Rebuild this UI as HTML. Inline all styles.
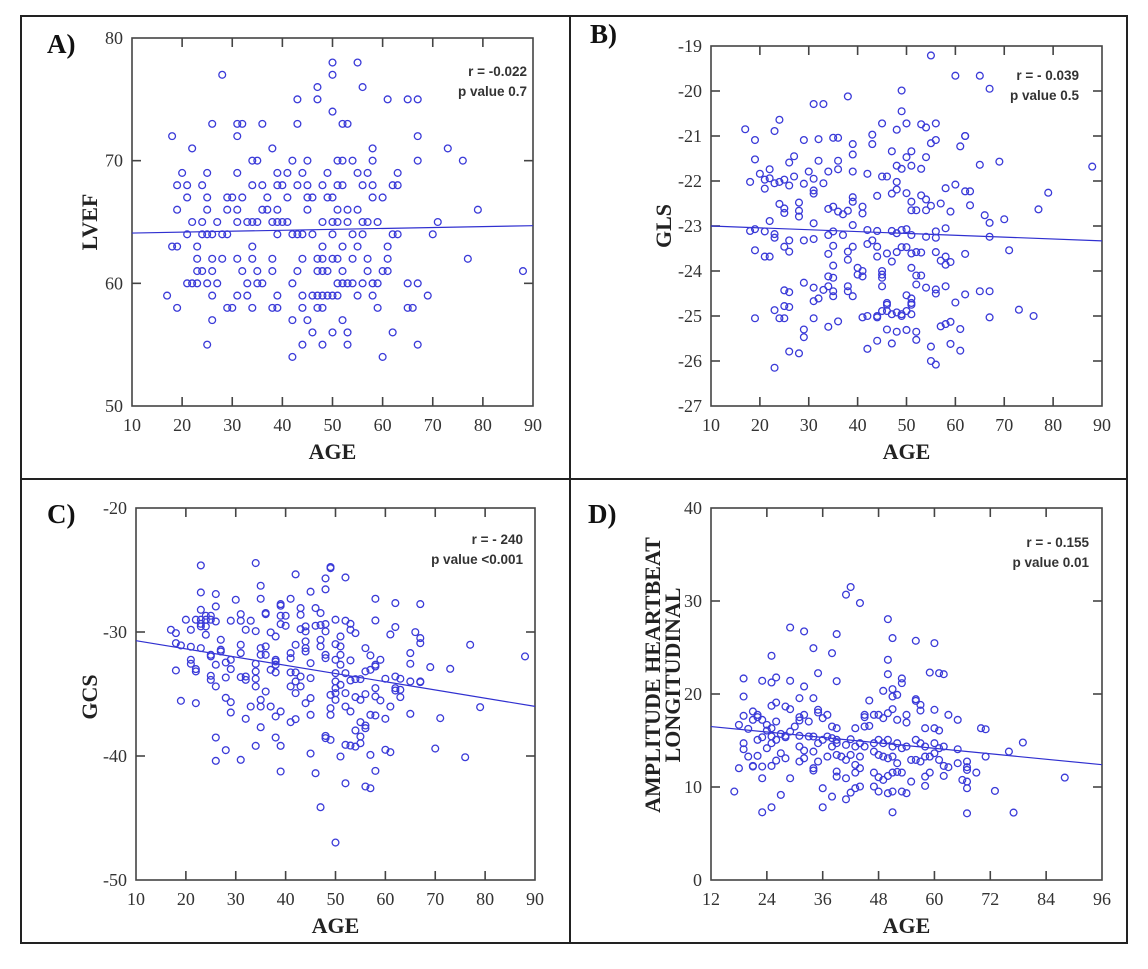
<!DOCTYPE html>
<html><head><meta charset="utf-8"><style>
html,body{margin:0;padding:0;background:#fff;}
svg{display:block;}
.tick{font-family:"Liberation Serif",serif;font-size:18px;fill:#333;}
.atitle{font-family:"Liberation Serif",serif;font-size:22px;font-weight:bold;fill:#222;}
.plabel{font-family:"Liberation Serif",serif;font-size:27px;font-weight:bold;fill:#111;}
.annot{font-family:"Liberation Sans",sans-serif;font-size:13.5px;font-weight:bold;fill:#333;}
</style></head><body>
<svg id="fig" width="1148" height="969" viewBox="0 0 1148 969" xmlns="http://www.w3.org/2000/svg">
<rect x="21" y="16" width="1106" height="927" fill="none" stroke="#222" stroke-width="2"/>
<line x1="570" y1="16" x2="570" y2="943" stroke="#222" stroke-width="2"/>
<line x1="21" y1="479" x2="1127" y2="479" stroke="#222" stroke-width="2"/>
</svg>
<script>
// ---------- DATA ----------
const ageTicksA=[10,20,30,40,50,60,70,80,90];
const lvefTicks=[50,60,70,80];
const lvefPts=[[50,78],[55,78],[28,77],[50,77],[47,76],[56,76],[43,75],[47,75],[61,75],[65,75],[67,75],[50,74],
[26,73],[31,73],[32,73],[36,73],[43,73],[52,73],[53,73],[18,72],[31,72],[67,72],[22,71],[38,71],[58,71],[73,71],
[34,70],[35,70],[42,70],[45,70],[51,70],[52,70],[54,70],[58,70],[67,70],[76,70],
[20,69],[25,69],[31,69],[39,69],[41,69],[44,69],[49,69],[55,69],[57,69],[63,69],
[19,68],[21,68],[24,68],[34,68],[36,68],[39,68],[40,68],[43,68],[45,68],[48,68],[51,68],[52,68],[56,68],[58,68],[62,68],[63,68],
[21,67],[25,67],[29,67],[30,67],[32,67],[37,67],[41,67],[45,67],[46,67],[49,67],[50,67],[58,67],[60,67],
[19,66],[25,66],[29,66],[31,66],[36,66],[37,66],[39,66],[45,66],[51,66],[53,66],[55,66],[79,66],
[22,65],[24,65],[27,65],[31,65],[33,65],[34,65],[35,65],[38,65],[39,65],[40,65],[41,65],[48,65],[50,65],[51,65],[53,65],[56,65],[57,65],[59,65],[71,65],
[21,64],[24,64],[25,64],[26,64],[28,64],[29,64],[39,64],[42,64],[43,64],[44,64],[46,64],[50,64],[54,64],[56,64],[62,64],[63,64],[70,64],
[18,63],[19,63],[23,63],[34,63],[48,63],[52,63],[55,63],[61,63],
[23,62],[26,62],[28,62],[31,62],[34,62],[38,62],[44,62],[47,62],[48,62],[50,62],[51,62],[54,62],[57,62],[61,62],[77,62],
[23,61],[24,61],[26,61],[32,61],[35,61],[38,61],[43,61],[47,61],[48,61],[49,61],[52,61],[57,61],[60,61],[61,61],[88,61],
[21,60],[22,60],[23,60],[25,60],[27,60],[33,60],[35,60],[36,60],[42,60],[51,60],[52,60],[53,60],[54,60],[56,60],[58,60],[59,60],[65,60],[67,60],
[17,59],[26,59],[31,59],[33,59],[39,59],[44,59],[46,59],[47,59],[48,59],[49,59],[50,59],[51,59],[55,59],[58,59],[69,59],
[19,58],[29,58],[30,58],[34,58],[38,58],[39,58],[44,58],[47,58],[48,58],[59,58],[65,58],[66,58],
[26,57],[42,57],[45,57],[52,57],[46,56],[50,56],[53,56],[62,56],[25,55],[44,55],[48,55],[53,55],[67,55],[42,54],[60,54]];
const fitA=[64.1,64.7];

const ageTicksB=[10,20,30,40,50,60,70,80,90];
const glsTicks=[-27,-26,-25,-24,-23,-22,-21,-20,-19];
const glsPts=[[55,-19.21],[60,-19.66],[65,-19.66],[67,-19.95],[49,-19.99],[38,-20.12],[31,-20.29],[33,-20.29],[49,-20.45],[24,-20.64],[45,-20.72],[50,-20.72],[53,-20.74],[54,-20.81],[56,-20.72],[17,-20.85],[23,-20.89],[48,-20.86],
[19,-21.09],[32,-21.07],[29,-21.09],[35,-21.04],[36,-21.04],[39,-21.18],[43,-20.97],[43,-21.18],[56,-21.09],[55,-21.16],[62,-21.0],[62,-21.0],[61,-21.23],[47,-21.34],[51,-21.34],[50,-21.47],[54,-21.47],[69,-21.57],[65,-21.64],[88,-21.68],
[19,-21.52],[27,-21.45],[26,-21.59],[36,-21.55],[36,-21.74],[39,-21.41],[32,-21.55],[30,-21.79],[34,-21.79],[39,-21.79],[42,-21.84],[45,-21.9],[46,-21.9],[48,-21.66],[49,-21.73],[51,-21.66],[53,-21.73],[48,-22.02],
[18,-22.02],[20,-21.84],[21,-21.97],[21,-22.17],[22,-21.74],[22,-21.94],[23,-22.05],[24,-22.02],[25,-21.97],[26,-22.1],[27,-21.9],[29,-22.06],[31,-21.95],[33,-22.05],[58,-22.16],[60,-22.08],[62,-22.23],[63,-22.23],[79,-22.26],
[47,-22.28],[44,-22.33],[48,-22.19],[50,-22.27],[53,-22.32],[54,-22.41],[51,-22.46],[51,-22.65],[52,-22.65],[54,-22.65],[55,-22.55],
[24,-22.51],[25,-22.61],[25,-22.71],[28,-22.48],[28,-22.66],[28,-22.79],[31,-22.21],[31,-22.28],[34,-22.62],[35,-22.57],[36,-22.68],[37,-22.74],[38,-22.66],[39,-22.36],[39,-22.46],[41,-22.57],[41,-22.72],[57,-22.5],[59,-22.68],[63,-22.54],[66,-22.76],[67,-22.93],[70,-22.85],[77,-22.63],
[22,-22.89],[18,-23.11],[19,-23.07],[21,-23.12],[23,-23.18],[23,-23.26],[26,-23.32],[29,-23.32],[31,-23.29],[31,-22.94],[37,-23.2],[34,-23.2],[35,-23.12],[39,-22.98],[42,-23.09],[44,-23.11],[47,-23.11],[48,-23.16],[49,-23.09],[50,-23.07],[51,-23.2],[54,-23.24],[56,-23.12],[56,-23.26],[58,-23.05],[67,-23.24],[71,-23.54],
[19,-23.54],[21,-23.68],[22,-23.68],[25,-23.46],[26,-23.57],[34,-23.62],[35,-23.44],[38,-23.57],[39,-23.46],[42,-23.4],[43,-23.32],[44,-23.46],[44,-23.68],[46,-23.61],[47,-23.79],[48,-23.58],[49,-23.47],[50,-23.47],[51,-23.61],[52,-23.58],[53,-23.59],[56,-23.58],[57,-23.77],[58,-23.68],[59,-23.8],[58,-23.86],[62,-23.62],
[38,-23.75],[40,-23.93],[41,-24.0],[40,-24.08],[41,-24.12],[45,-24.0],[45,-24.08],[45,-24.15],[51,-23.93],[52,-24.1],[53,-24.1],[52,-24.3],[54,-24.37],
[35,-23.88],[34,-24.12],[35,-24.15],[34,-24.34],[33,-24.42],[29,-24.26],[31,-24.37],[31,-24.67],[32,-24.61],[35,-24.45],[35,-24.56],[38,-24.34],[38,-24.45],[39,-24.56],[45,-24.34],[58,-24.34],[56,-24.41],[56,-24.5],[62,-24.52],[65,-24.45],[67,-24.45],[73,-24.86],[76,-25.0],[60,-24.7],
[50,-24.54],[51,-24.61],[51,-24.71],[51,-24.75],[51,-24.96],[46,-24.71],[46,-24.75],[45,-24.89],[44,-25.0],[46,-24.89],[47,-24.96],[48,-24.92],[49,-24.96],[50,-24.89],[49,-25.0],
[25,-24.43],[26,-24.47],[25,-24.78],[26,-24.8],[23,-24.87],[24,-25.05],[25,-25.05],[19,-25.05],[31,-25.05],[36,-25.12],[34,-25.24],[41,-25.03],[42,-25.0],[44,-25.03],[67,-25.03],[57,-25.23],[58,-25.18],[59,-25.13],[61,-25.29],
[29,-25.3],[29,-25.47],[46,-25.3],[48,-25.35],[50,-25.31],[52,-25.35],[52,-25.53],[44,-25.55],[47,-25.61],[42,-25.73],[59,-25.62],[61,-25.77],[26,-25.79],[28,-25.83],[23,-26.15],[55,-25.68],[55,-26.0],[56,-26.08]];
const fitB=[-23.0,-23.33];

const ageTicksC=[10,20,30,40,50,60,70,80,90];
const gcsTicks=[-50,-40,-30,-20];
const gcsPts=[[23,-24.63],[34,-24.44],[49,-24.76],[49,-24.85],[42,-25.35],[48,-25.68],[52,-25.6],[35,-26.27],[23,-26.81],[26,-26.94],[45,-26.75],[48,-26.56],
[30,-27.4],[35,-27.32],[41,-27.32],[58,-27.32],[39,-27.75],[39,-27.88],[62,-27.67],[67,-27.75],[26,-27.94],[23,-28.21],[25,-28.69],[24,-28.69],[46,-28.07],[47,-28.47],[43,-28.07],[36,-28.47],[36,-28.56],[31,-28.56],
[20,-29.01],[22,-29.01],[23,-29.01],[24,-29.01],[25,-29.01],[26,-29.15],[29,-29.09],[31,-29.09],[33,-29.09],[39,-28.69],[40,-28.69],[43,-28.61],[50,-29.01],[52,-29.09],[58,-29.07],
[17,-29.82],[21,-29.82],[23,-29.34],[23,-29.55],[24,-29.55],[24,-30.22],[27,-30.63],[32,-29.82],[34,-29.93],[37,-30.03],[38,-30.36],[39,-29.36],[40,-29.5],[44,-29.55],[43,-29.77],[44,-29.95],[46,-29.5],[47,-29.44],[48,-29.36],[48,-29.95],[53,-29.34],[54,-30.09],[53,-29.82],[61,-30.2],[62,-29.6],[66,-30.01],[67,-30.49],[67,-30.9],
[18,-30.09],[18,-30.9],[19,-31.08],[21,-31.19],[23,-31.3],[25,-31.84],[25,-31.97],[27,-31.43],[27,-31.57],[31,-31.03],[31,-31.7],[36,-31.16],[35,-31.3],[35,-31.84],[36,-31.84],[38,-32.24],[38,-32.38],[41,-32.11],[41,-31.7],[42,-31.03],[44,-30.76],[44,-31.3],[44,-31.57],[47,-30.63],[47,-31.16],[48,-31.84],[48,-32.11],[50,-30.98],[51,-31.16],[51,-31.84],[51,-30.36],[53,-32.29],[50,-32.24],[51,-32.64],[56,-31.3],[57,-31.89],[58,-32.78],[59,-32.24],[65,-31.7],[65,-32.56],[69,-32.83],[73,-32.97],[77,-31.03],[88,-31.97],
[18,-33.1],[21,-32.24],[21,-32.56],[22,-32.99],[22,-33.18],[26,-32.64],[28,-32.46],[29,-32.24],[29,-32.99],[32,-33.59],[34,-32.56],[34,-33.18],[37,-33.05],[38,-32.64],[38,-33.26],[41,-33.26],[42,-33.26],[43,-33.59],[45,-32.51],[45,-33.72],[50,-33.32],[52,-33.32],[54,-33.8],[53,-33.91],[55,-33.8],[56,-33.18],[57,-33.05],[58,-32.64],[60,-33.77],[62,-33.59],[63,-33.77],[65,-33.99],[67,-33.99],
[25,-33.53],[25,-33.86],[26,-34.39],[28,-33.67],[31,-33.64],[32,-33.86],[34,-33.77],[34,-34.39],[36,-34.8],[41,-34.39],[42,-33.99],[43,-34.39],[42,-34.93],[50,-33.99],[50,-34.53],[51,-34.26],[50,-34.93],[49,-35.07],[50,-35.47],[52,-34.93],[54,-35.25],[55,-35.47],[56,-35.01],[58,-34.53],[58,-35.2],[59,-35.52],[62,-34.53],[62,-34.72],[63,-34.66],[63,-35.25],[61,-36.01],[65,-36.6],[67,-34.04],
[19,-35.55],[22,-35.74],[28,-35.31],[29,-35.66],[33,-36.01],[35,-35.47],[35,-36.01],[37,-36.01],[38,-36.81],[39,-36.41],[41,-37.27],[42,-37.03],[44,-35.74],[45,-35.33],[45,-36.68],[49,-36.14],[49,-36.68],[52,-36.01],[53,-36.41],[55,-37.27],[56,-37.54],[56,-37.76],[57,-36.68],[58,-36.73],[60,-37.0],[71,-36.95],[79,-36.06],
[29,-36.49],[32,-37.0],[35,-37.68],[54,-37.94],[55,-38.43],[54,-39.24],[55,-38.97],[48,-38.38],[48,-38.56],[49,-38.7],[53,-39.16],[52,-39.1],[26,-38.51],[28,-39.53],[38,-38.51],[39,-39.18],[34,-39.18],[57,-39.91],[60,-39.5],[61,-39.69],[70,-39.4],[76,-40.1],
[26,-40.39],[31,-40.31],[45,-39.8],[51,-40.04],[39,-41.25],[46,-41.39],[58,-41.2],[52,-42.2],[56,-42.46],[57,-42.6],[47,-44.13],[50,-46.98]];
const fitC=[-30.7,-36.0];

const ageTicksD=[12,24,36,48,60,72,84,96];
const ampTicks=[0,10,20,30,40];
const ampPts=[[42,31.5],[41,30.68],[44,29.78],[50,28.05],[29,27.15],[32,26.73],[39,26.44],[51,26.01],[56,25.72],[60,25.47],[34,24.93],[38,24.39],[25,24.11],[50,23.68],
[59,22.31],[61,22.24],[62,22.13],[35,22.24],[50,22.13],[26,21.78],[19,21.67],[23,21.42],[29,21.42],[39,21.38],[32,20.81],[53,21.67],[53,21.17],[25,21.24],[51,20.52],[51,19.73],[49,20.34],[52,19.91],
[31,19.55],[34,19.55],[19,19.73],[56,19.44],[56,19.26],[46,19.3],[26,19.08],[25,18.73],[57,18.83],[57,18.22],[60,18.3],[63,17.76],[65,17.22],
[21,18.12],[22,17.76],[22,17.51],[23,17.22],[19,17.65],[18,16.68],[20,16.25],[24,16.68],[26,17.04],[25,16.32],[28,18.65],[29,18.37],[32,17.76],[31,17.51],[31,17.15],[30,16.5],[33,17.04],[35,18.3],[35,18.01],[37,17.76],[36,17.4],[38,16.5],[39,16.32],[43,16.32],[45,16.5],[45,17.51],[45,17.76],[46,16.57],[47,17.76],[48,17.76],[49,17.4],[50,17.94],[51,18.37],[52,17.22],[54,17.76],[54,16.93],[58,16.32],[60,16.32],[61,16.07],[70,16.32],[71,16.21],
[21,17.22],[28,15.5],[31,15.5],[22,15.07],[24,16.07],[25,15.43],[26,15.07],[27,15.71],[28,15.35],[29,15.96],[23,15.35],[19,14.71],[19,14.06],[22,13.35],[24,14.17],[25,14.71],[31,14.35],[32,13.92],[33,15.43],[34,15.43],[35,14.71],[36,15.07],[37,15.43],[38,15.25],[39,15.07],[38,14.35],[39,14.71],[41,14.53],[42,15.14],[43,14.35],[44,14.71],[45,14.35],[47,14.71],[48,15.07],[49,14.71],[50,15.07],[51,14.35],[52,14.71],[54,14.35],[56,15.07],[57,14.71],[58,14.35],[60,14.71],[61,14.17],[62,14.35],[65,14.06],[76,13.81],[79,14.78],[71,13.27],
[20,13.27],[21,12.27],[25,12.27],[23,12.2],[26,12.84],[27,13.63],[28,13.09],[31,12.74],[32,13.09],[34,13.81],[34,12.02],[35,12.74],[37,13.27],[39,13.45],[40,13.27],[41,12.91],[42,13.45],[43,12.38],[44,13.27],[47,13.81],[48,13.45],[49,13.27],[50,13.09],[51,13.27],[52,12.56],[53,14.17],[55,12.91],[56,12.91],[57,12.74],[58,13.27],[59,13.27],[60,13.63],[61,12.91],[62,12.27],[63,12.13],[65,12.56],[67,12.74],[67,12.13],[69,11.55],[67,11.84],
[18,12.02],[21,12.2],[23,10.94],[29,10.94],[34,11.77],[39,11.66],[39,11.12],[41,10.94],[43,11.55],[44,12.02],[47,11.55],[48,11.05],[49,10.76],[50,11.19],[51,11.55],[52,11.62],[53,11.55],[55,10.58],[58,11.12],[59,11.55],[62,11.19],[66,10.76],[67,10.58],[88,11.01],
[17,9.51],[27,9.15],[36,9.87],[38,8.97],[41,8.68],[42,9.4],[43,9.87],[44,10.05],[47,10.05],[48,9.51],[50,9.33],[51,9.51],[53,9.51],[54,9.33],[58,10.12],[67,9.87],[73,9.58],
[23,7.28],[25,7.82],[36,7.82],[51,7.28],[67,7.17],[77,7.25]];
const fitD=[16.5,12.4];

// ---------- DRAW ----------
const NS='http://www.w3.org/2000/svg';
const svg=document.getElementById('fig');
function mk(tag,attrs,parent,text){
  const e=document.createElementNS(NS,tag);
  for(const k in attrs) e.setAttribute(k,attrs[k]);
  if(text!==undefined) e.textContent=text;
  (parent||svg).appendChild(e);
  return e;
}
function panel(p){
  const g=mk('g',{});
  
  
  const sx=v=>p.x0+(v-p.xmin)/(p.xmax-p.xmin)*(p.x1-p.x0);
  const sy=v=>p.y1-(v-p.ymin)/(p.ymax-p.ymin)*(p.y1-p.y0);
  const frame=mk('rect',{x:p.x0,y:p.y0,width:p.x1-p.x0,height:p.y1-p.y0,fill:'none',stroke:'#444','stroke-width':1.6},g);
  
  
  p.xt.forEach(t=>{
    const x=sx(t);
    if(t!==p.xmin&&t!==p.xmax){
      const a=mk('line',{x1:x,y1:p.y1,x2:x,y2:p.y1-9,stroke:'#444','stroke-width':1.6},g);
      
      
      const b=mk('line',{x1:x,y1:p.y0,x2:x,y2:p.y0+9,stroke:'#444','stroke-width':1.6},g);
      
      
    }
    const l=mk('text',{x:x,y:p.y1+25,'text-anchor':'middle',class:'tick'},g,String(t));
    
    
  });
  p.yt.forEach(t=>{
    const y=sy(t);
    if(t!==p.ymin&&t!==p.ymax){
      const a=mk('line',{x1:p.x0,y1:y,x2:p.x0+9,y2:y,stroke:'#444','stroke-width':1.6},g);
      
      
      const b=mk('line',{x1:p.x1,y1:y,x2:p.x1-9,y2:y,stroke:'#444','stroke-width':1.6},g);
      
      
    }
    const l=mk('text',{x:p.x0-9,y:y+6,'text-anchor':'end',class:'tick'},g,String(t));
    
    
  });
  const fit=mk('line',{x1:sx(p.xmin),y1:sy(p.fit[0]),x2:sx(p.xmax),y2:sy(p.fit[1]),stroke:'#3030d0','stroke-width':1.2},g);
  
  
  p.pts.forEach(d=>{
    const c=mk('circle',{cx:sx(d[0]),cy:sy(d[1]),r:3.4,fill:'none',stroke:'#3a3ad8','stroke-width':1.3},g);
    
    
  });
  const xt=mk('text',{x:(p.x0+p.x1)/2,y:p.y1+53,'text-anchor':'middle',class:'atitle'},g,'AGE');
  
  
  const cy=p.ytCenter;
  p.ytitle.forEach((s,i)=>{
    const tx=p.ytx[i];
    const t=mk('text',{x:tx,y:cy,'text-anchor':'middle',class:'atitle',transform:'rotate(-90 '+tx+' '+cy+')'},g,s);
    
    
  });
  const pl=mk('text',{x:p.lx,y:p.ly,class:'plabel'},g,p.letter);
  
  
  p.annot.forEach((s,i)=>{
    const a=mk('text',{x:p.ax,y:p.ay+i*20,'text-anchor':'end',class:'annot'},g,s);
    
    
  });
}
panel({name:'panel-a-lvef',x0:132,x1:533,y0:38,y1:406,xmin:10,xmax:90,ymin:50,ymax:80,xt:ageTicksA,yt:lvefTicks,pts:lvefPts,fit:fitA,
  ytitle:['LVEF'],ytx:[97],ytCenter:222,letter:'A)',lx:47,ly:53,annot:['r = -0.022','p value 0.7'],ax:527,ay:76});
panel({name:'panel-b-gls',x0:711,x1:1102,y0:46,y1:406,xmin:10,xmax:90,ymin:-27,ymax:-19,xt:ageTicksB,yt:glsTicks,pts:glsPts,fit:fitB,
  ytitle:['GLS'],ytx:[671],ytCenter:226,letter:'B)',lx:590,ly:43,annot:['r = - 0.039','p value 0.5'],ax:1079,ay:80});
panel({name:'panel-c-gcs',x0:136,x1:535,y0:508,y1:880,xmin:10,xmax:90,ymin:-50,ymax:-20,xt:ageTicksC,yt:gcsTicks,pts:gcsPts,fit:fitC,
  ytitle:['GCS'],ytx:[97],ytCenter:697,letter:'C)',lx:47,ly:523,annot:['r = - 240','p value <0.001'],ax:523,ay:544});
panel({name:'panel-d-amplitude',x0:711,x1:1102,y0:508,y1:880,xmin:12,xmax:96,ymin:0,ymax:40,xt:ageTicksD,yt:ampTicks,pts:ampPts,fit:fitD,
  ytitle:['AMPLITUDE HEARTBEAT','LONGITUDINAL'],ytx:[660,680],ytCenter:675,letter:'D)',lx:588,ly:523,annot:['r = - 0.155','p value 0.01'],ax:1089,ay:547});
</script>
</body></html>
